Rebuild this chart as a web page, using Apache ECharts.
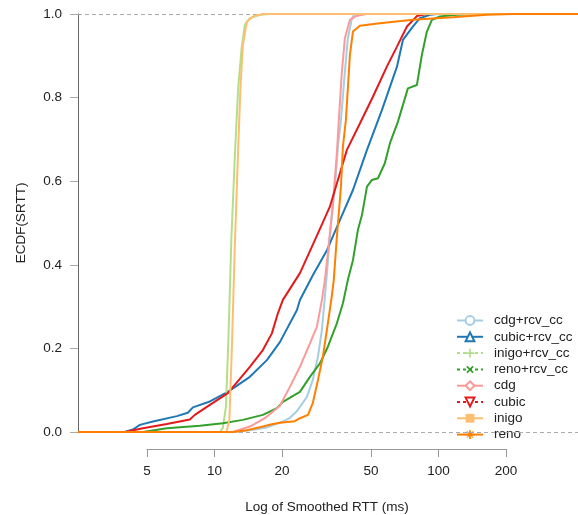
<!DOCTYPE html>
<html><head><meta charset="utf-8">
<script src="https://cdn.jsdelivr.net/npm/echarts@6/dist/echarts.min.js"></script>
<style>html,body{margin:0;padding:0;background:#fff}#c{width:578px;height:515px}</style>
</head><body><div id="c"></div>
<script>
const seriesNames = ['cdg+rcv_cc','cubic+rcv_cc','inigo+rcv_cc','reno+rcv_cc','cdg','cubic','inigo','reno'];
const xTicks = [5, 10, 20, 50, 100, 200];

const cdgRcv = [[2.49,0],[12.15,0],[14.45,0.004],[17.2,0.011],[20.26,0.025],[21.77,0.034],[23.4,0.05],[25.9,0.084],[27.5,0.124],[29.0,0.18],[30.2,0.244],[31.14,0.324],[31.8,0.38],[32.77,0.467],[34.49,0.587],[35.6,0.683],[36.7,0.746],[38.21,0.862],[39.4,0.942],[41.06,0.99],[42.33,1],[415,1]];
const cubicRcv = [[2.49,0],[4.02,0],[4.37,0.006],[4.69,0.017],[5.36,0.025],[6.85,0.038],[7.66,0.046],[8.07,0.059],[9.6,0.073],[11.54,0.096],[14.45,0.132],[17.2,0.172],[19.65,0.215],[23.4,0.292],[24.12,0.316],[27.6,0.376],[31.8,0.435],[36.31,0.507],[41.5,0.579],[47.9,0.675],[55.8,0.77],[65.1,0.874],[69.2,0.938],[76.6,0.97],[82.3,0.99],[91.2,0.998],[98,1],[415,1]];
const inigoRcv = [[2.49,0],[10.63,0],[10.96,0.01],[11.31,0.06],[11.6,0.22],[11.96,0.463],[12.4,0.663],[12.82,0.822],[13.28,0.918],[13.73,0.974],[14.45,0.99],[16.01,0.998],[17.74,1],[415,1]];
const renoRcv = [[2.49,0],[4.84,0],[6.18,0.009],[8.67,0.015],[10.96,0.021],[13.45,0.029],[16.51,0.041],[19.05,0.057],[20.26,0.072],[24.12,0.096],[26.72,0.132],[29.59,0.164],[32.1,0.204],[35.2,0.26],[37.45,0.308],[39.4,0.364],[41.5,0.411],[43.65,0.483],[45.5,0.519],[47.9,0.587],[50.4,0.603],[53.6,0.607],[57.5,0.643],[60.6,0.691],[65.7,0.742],[72.8,0.822],[79.8,0.83],[84,0.902],[88.4,0.958],[93.1,0.986],[101,0.994],[120.2,0.998],[152,1],[415,1]];
const cdg = [[2.49,0],[12.15,0],[14.45,0.013],[16.85,0.033],[19.65,0.063],[21.77,0.108],[24.12,0.156],[26.72,0.212],[28.7,0.252],[30.2,0.316],[31.14,0.364],[32.1,0.428],[33.8,0.547],[35.2,0.667],[35.9,0.746],[37.06,0.862],[38.21,0.942],[40.22,0.986],[43.2,0.996],[47.9,1],[415,1]];
const cubic = [[2.49,0],[4.02,0],[4.84,0.009],[6.18,0.019],[7.82,0.03],[8.23,0.041],[9.6,0.065],[11.54,0.093],[14.45,0.156],[16.51,0.196],[18.1,0.236],[19.25,0.284],[20.26,0.316],[24.12,0.38],[28.11,0.459],[32.77,0.539],[36.31,0.619],[39.0,0.675],[44.55,0.738],[50.9,0.802],[58.7,0.874],[65.1,0.922],[72.1,0.97],[79.8,0.995],[88.4,1],[415,1]];
const inigo = [[2.49,0],[11.39,0],[11.72,0.03],[12.02,0.2],[12.4,0.45],[12.79,0.66],[13.12,0.822],[13.45,0.926],[14.02,0.982],[14.9,0.994],[16.51,1],[415,1]];
const reno = [[2.49,0],[12.15,0],[14.02,0.004],[16.51,0.013],[18.29,0.019],[19.65,0.022],[22.9,0.026],[24.12,0.033],[26.2,0.041],[27.5,0.069],[29.0,0.124],[30.5,0.18],[32.1,0.26],[33.4,0.324],[34.1,0.364],[35.2,0.467],[36.7,0.587],[37.45,0.683],[38.6,0.746],[40.22,0.902],[41.5,0.958],[44.55,0.972],[54.67,0.978],[76.6,0.986],[115.4,0.992],[163.4,0.998],[213,1],[415,1]];

const seriesData = [cdgRcv, cubicRcv, inigoRcv, renoRcv, cdg, cubic, inigo, reno];

const colors = ['#a6cee3','#1f78b4','#b2df8a','#33a02c','#fb9a99','#e31a1c','#fdbf6f','#ff7f00'];
const plusPath = 'path://M4,0H6V4H10V6H6V10H4V6H0V4H4Z';
const starPath = 'path://M0,4H10V6H0Z M4,0H6V10H4Z M1.7,1L9,8.3L8.3,9L1,1.7Z M8.3,1L9,1.7L1.7,9L1,8.3Z';
const symbols = ['emptyCircle','emptyTriangle',plusPath,plusPath,'emptyDiamond','emptyTriangle','rect',starPath];
const rotations = [0,0,0,45,0,180,0,0];
const dashedLegend = [false,false,true,true,false,true,false,false];
const FONT = '"Liberation Sans", Arial, Helvetica, sans-serif';

const chart = echarts.init(document.getElementById('c'), null, {renderer:'canvas'});

const series = seriesNames.map((name, i) => ({
  name: name,
  type: 'line',
  xAxisIndex: 0,
  yAxisIndex: 0,
  data: seriesData[i],
  showSymbol: false,
  symbol: symbols[i],
  symbolSize: 9,
  symbolRotate: rotations[i],
  smooth: false,
  animation: false,
  lineStyle: {color: colors[i], width: 2},
  itemStyle: {color: colors[i]},
  emphasis: {disabled: true},
  z: 2 + i
}));
series[series.length - 1].markLine = {
  silent: true,
  symbol: ['none','none'],
  animation: false,
  label: {show: false},
  lineStyle: {color: '#aaaaaa', type: [4,3], width: 1},
  data: [{yAxis: 0}, {yAxis: 1}]
};

chart.setOption({
  animation: false,
  textStyle: {fontFamily: FONT},
  grid: [
    {left: 78, right: 0, top: 14, bottom: 83},
    {left: 147, width: 359, top: 448, height: 1}
  ],
  xAxis: [
    {type: 'log', logBase: 10, gridIndex: 0, min: 2.49, max: 415, show: false},
    {type: 'log', logBase: 10, gridIndex: 1, min: 5, max: 200, position: 'bottom',
     axisLine: {show: true, lineStyle: {color: '#999', width: 1}},
     axisTick: {show: true, length: 8, customValues: xTicks, lineStyle: {color: '#999'}},
     axisLabel: {customValues: xTicks, margin: 15, fontSize: 13.5, color: '#222', fontFamily: FONT},
     splitLine: {show: false}, minorTick: {show: false}}
  ],
  yAxis: [
    {type: 'value', gridIndex: 0, min: 0, max: 1, interval: 0.2,
     axisLine: {show: true, lineStyle: {color: '#666', width: 1}},
     axisTick: {show: true, length: 8, lineStyle: {color: '#aaa'}},
     axisLabel: {margin: 16, fontSize: 13.5, color: '#222', fontFamily: FONT, formatter: v => v.toFixed(1)},
     splitLine: {show: false}},
    {type: 'value', gridIndex: 1, show: false}
  ],
  legend: {
    orient: 'vertical',
    left: 456, top: 313.5,
    padding: 0,
    itemWidth: 26, itemHeight: 11, itemGap: 2.3,
    textStyle: {fontSize: 13.5, color: '#222', fontFamily: FONT, lineHeight: 13, padding: [0,0,0,6]},
    selectedMode: false,
    data: seriesNames.map((n, i) => dashedLegend[i] ? {name: n, lineStyle: {type: [3,3]}} : {name: n})
  },
  graphic: [
    {type: 'text', x: 327, y: 507, silent: true,
     style: {text: 'Log of Smoothed RTT (ms)', align: 'center', verticalAlign: 'middle', fontSize: 13.5, fontFamily: FONT, fill: '#222'}},
    {type: 'text', x: 21, y: 223, rotation: Math.PI / 2, silent: true,
     style: {text: 'ECDF(SRTT)', align: 'center', verticalAlign: 'middle', fontSize: 13.5, fontFamily: FONT, fill: '#222'}}
  ],
  series: series
});
</script>
</body></html>
